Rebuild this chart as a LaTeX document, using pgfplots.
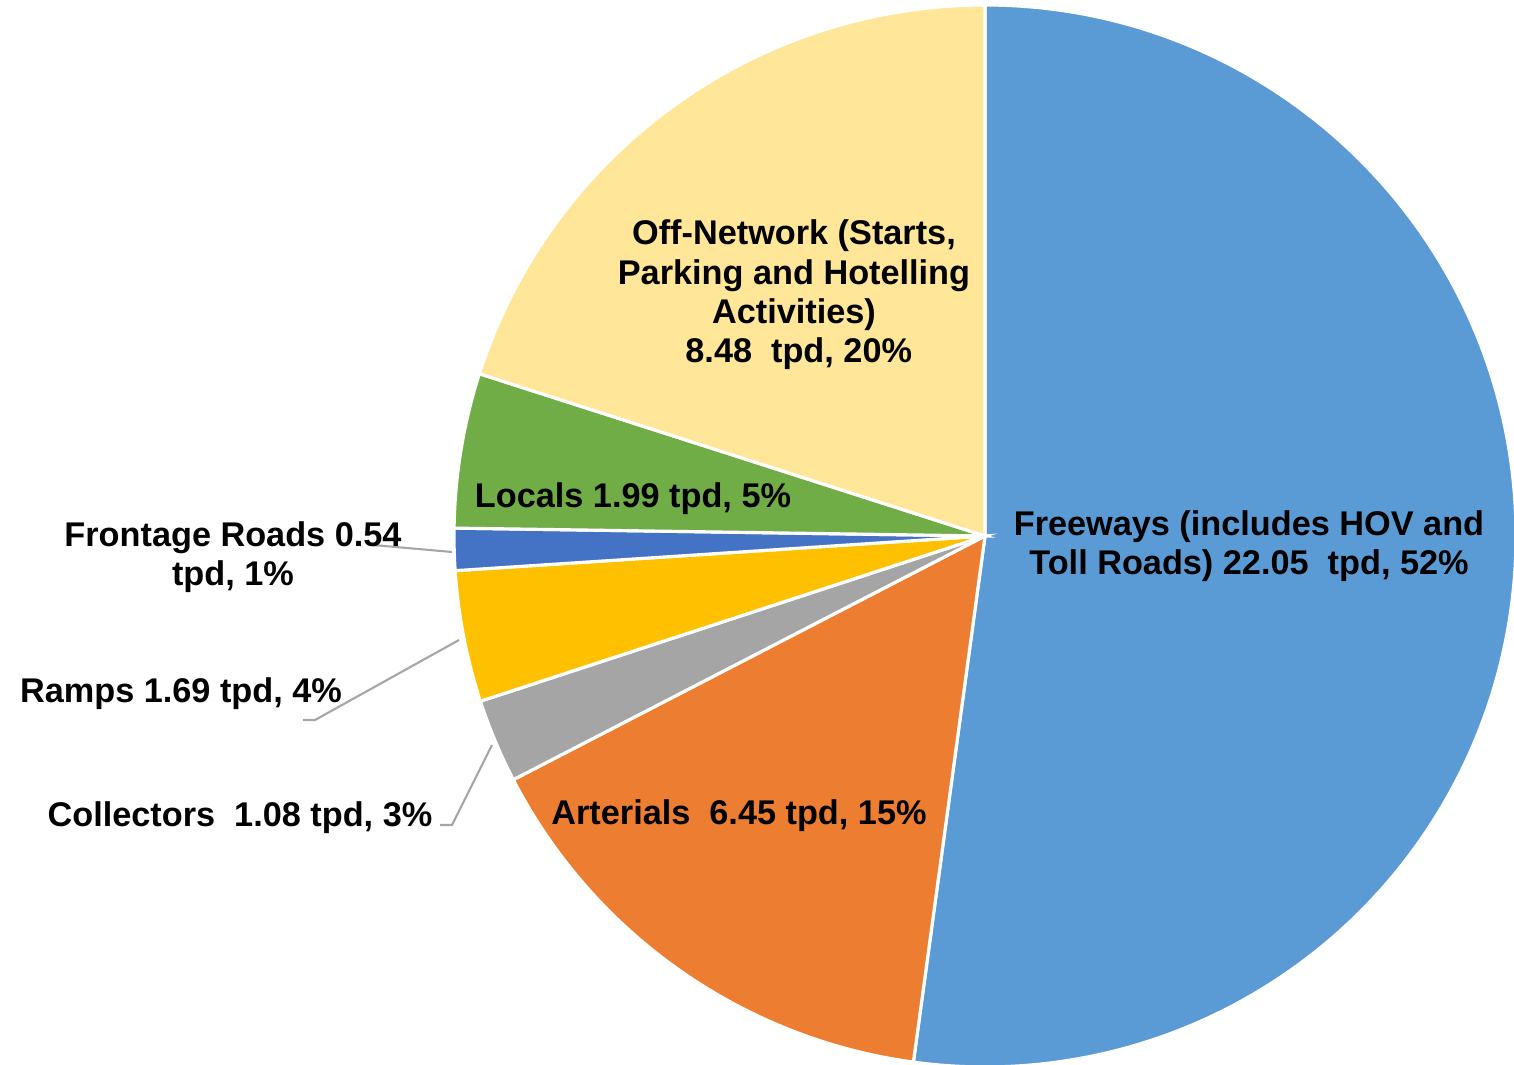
\documentclass[border=0pt]{standalone}
\usepackage{pgfplots}
\pgfplotsset{compat=1.18}
\usepackage{fontspec}
\setmainfont{Liberation Sans}
\definecolor{fw}{HTML}{5B9BD5}
\definecolor{art}{HTML}{ED7D31}
\definecolor{col}{HTML}{A5A5A5}
\definecolor{ramp}{HTML}{FFC000}
\definecolor{front}{HTML}{4472C4}
\definecolor{loc}{HTML}{70AD47}
\definecolor{off}{HTML}{FFE699}
\definecolor{lead}{HTML}{A6A6A6}
% values (tpd)
\def\vFw{22.05}\def\vArt{6.45}\def\vCol{1.08}\def\vRamp{1.69}
\def\vFront{0.54}\def\vLoc{1.99}\def\vOff{8.48}
\pgfmathsetmacro\tot{\vFw+\vArt+\vCol+\vRamp+\vFront+\vLoc+\vOff}
\pgfmathsetmacro\aA{90}
\pgfmathsetmacro\aB{\aA-\vFw/\tot*360}
\pgfmathsetmacro\aC{\aB-\vArt/\tot*360}
\pgfmathsetmacro\aD{\aC-\vCol/\tot*360}
\pgfmathsetmacro\aE{\aD-\vRamp/\tot*360}
\pgfmathsetmacro\aF{\aE-\vFront/\tot*360}
\pgfmathsetmacro\aG{\aF-\vLoc/\tot*360}
\pgfmathsetmacro\aH{\aG-\vOff/\tot*360}
\def\R{5.31cm}
\newcommand\slice[3]{\fill[#3,draw=white,line width=0.9pt] (axis cs:985,529) -- ++(#1:\R) arc[start angle=#1,end angle=#2,radius=\R] -- cycle;}
\tikzset{lab/.style={font=\fontsize{9.75}{11.2}\selectfont\bfseries,align=center,inner sep=0pt}}
\begin{document}
\begin{tikzpicture}
\begin{axis}[name=ax,width=15.14cm,height=10.65cm,scale only axis,hide axis,
  xmin=0,xmax=1514,ymin=0,ymax=1065]
\slice{\aA}{\aB}{fw}
\slice{\aB}{\aC}{art}
\slice{\aC}{\aD}{col}
\slice{\aD}{\aE}{ramp}
\slice{\aE}{\aF}{front}
\slice{\aF}{\aG}{loc}
\slice{\aG}{\aH}{off}
\addplot[lead,line width=0.6pt] coordinates {(373,520) (452,513)};
\addplot[lead,line width=0.6pt] coordinates {(303,345) (315,345) (459,425)};
\addplot[lead,line width=0.6pt] coordinates {(440,240) (452,240) (492,320)};
\node[lab] at (axis cs:1249,519) {Freeways (includes HOV and\\Toll Roads) 22.05\ \ tpd, 52\%};
\node[lab] at (axis cs:794,770) {Off-Network (Starts,\\Parking and Hotelling\\Activities)\\\ 8.48\ \ tpd, 20\%};
\node[lab] at (axis cs:633,566) {Locals 1.99 tpd, 5\%};
\node[lab] at (axis cs:739,249) {Arterials\ \ 6.45 tpd, 15\%};
\node[lab] at (axis cs:233,508) {Frontage Roads 0.54\\tpd, 1\%};
\node[lab] at (axis cs:181,371) {Ramps 1.69 tpd, 4\%};
\node[lab] at (axis cs:240,247) {Collectors\ \ 1.08 tpd, 3\%};
\end{axis}
\pgfresetboundingbox
\path[use as bounding box] (ax.south west) rectangle (ax.north east);
\end{tikzpicture}
\end{document}
